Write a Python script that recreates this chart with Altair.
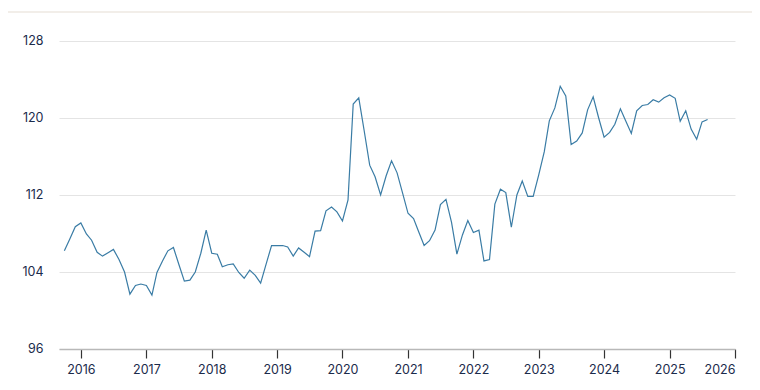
import altair as alt
import pandas as pd

values = [
    106.2, 107.45, 108.7, 109.1, 107.95, 107.3, 106.05, 105.65, 106.0, 106.35, 105.3, 104.0,
    101.7, 102.6, 102.75, 102.6, 101.6, 103.95, 105.15, 106.2, 106.55, 104.8, 103.05, 103.15,
    104.0, 105.95, 108.35, 105.95, 105.85, 104.55, 104.75, 104.85, 103.95, 103.35, 104.2, 103.65,
    102.85, 104.85, 106.75, 106.75, 106.75, 106.6, 105.65, 106.5, 106.05, 105.6, 108.25, 108.3,
    110.35, 110.75, 110.25, 109.3, 111.5, 121.45, 122.1, 118.7, 115.1, 113.9, 112.0, 114.0,
    115.55, 114.3, 112.25, 110.1, 109.55, 108.2, 106.75, 107.25, 108.35, 111.0, 111.55, 109.15,
    105.85, 107.85, 109.35, 108.1, 108.35, 105.15, 105.3, 111.05, 112.6, 112.25, 108.65, 112.0,
    113.45, 111.85, 111.85, 114.1, 116.5, 119.7, 121.05, 123.3, 122.3, 117.25, 117.6, 118.45,
    120.85, 122.2, 120.05, 118.0, 118.5, 119.35, 120.95, 119.7, 118.4, 120.75, 121.3, 121.4,
    121.9, 121.65, 122.1, 122.4, 122.05, 119.65, 120.75, 118.85, 117.8, 119.6, 119.85,
]
months = pd.date_range("2015-10-01", periods=len(values), freq="MS").strftime("%Y-%m-%d").tolist()
y_ticks = [96, 104, 112, 120, 128]

df = pd.DataFrame({"date": months, "value": values})

label_color = "#1b2b4b"

line = alt.Chart(df).mark_line(color="#3a7ca5", strokeWidth=1.2).encode(
    x=alt.X(
        "date:T",
        scale=alt.Scale(domain=["2015-09-01", "2026-01-01"]),
        axis=alt.Axis(
            title=None,
            format="%Y",
            tickCount={"interval": "year", "step": 1},
            grid=False,
            domainColor="#b8b8b8",
            domainWidth=1.5,
            tickColor="#333333",
            tickSize=9,
            tickWidth=1.2,
            labelPadding=5,
            labelFlush=True,
            labelOverlap=False,
            labelColor=label_color,
            labelFontSize=12.5,
        ),
    ),
    y=alt.Y(
        "value:Q",
        scale=alt.Scale(domain=[96, 128], nice=False, zero=False),
        axis=alt.Axis(
            title=None,
            values=y_ticks,
            domain=False,
            ticks=False,
            tickSize=0,
            labelPadding=16,
            labelOffset=-1,
            gridColor="#e4e4e4",
            gridWidth=1,
            labelColor=label_color,
            labelFontSize=12.5,
        ),
    ),
)

top_rule = alt.Chart(df).mark_rule(color="#f2eee9", strokeWidth=2).encode(
    x=alt.value(-52), x2=alt.value(693), y=alt.value(-29)
)

chart = (
    alt.layer(line, top_rule)
    .properties(
        width=676,
        height=308,
        autosize=alt.AutoSizeParams(type="none"),
        padding={"left": 51, "top": 33, "right": 17, "bottom": 32},
    )
    .configure(font="Inter")
    .configure_view(stroke=None)
    .configure_axis(labelFont="Inter")
)

chart.save("out.html", embed_options={"renderer": "svg", "actions": False})
